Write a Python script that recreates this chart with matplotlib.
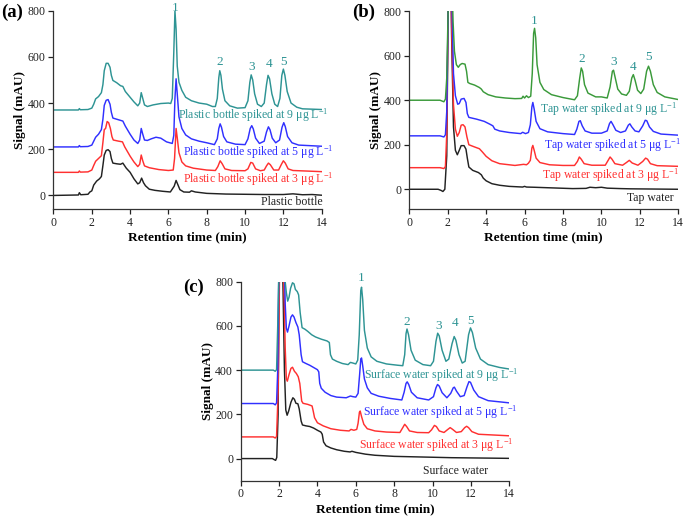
import matplotlib
matplotlib.use('Agg')
import matplotlib.pyplot as plt
import numpy as np

plt.rcParams['font.family'] = 'Liberation Serif'
plt.rcParams['mathtext.fontset'] = 'custom'
plt.rcParams['mathtext.rm'] = 'Liberation Serif'
plt.rcParams['mathtext.it'] = 'Liberation Serif:italic'
plt.rcParams['mathtext.bf'] = 'Liberation Serif:bold'

# ---------------------------------------------------------------
# Chromatogram traces: (time min, signal mAU)
# ---------------------------------------------------------------
# (a) plastic bottle
a_blank = [(0,0),(1.3,2),(1.35,12),(1.42,3),(1.8,5),(1.9,15),(2.0,20),(2.1,45),(2.25,62),(2.4,72),(2.5,82),(2.58,130),(2.65,175),(2.75,195),(2.85,198),(2.95,190),(3.02,160),(3.1,140),(3.3,137),(3.5,135),(3.62,140),(3.8,118),(4.0,100),(4.2,72),(4.4,50),(4.5,55),(4.6,75),(4.7,55),(4.8,42),(5.0,27),(5.3,22),(5.7,18),(6.1,15),(6.3,40),(6.4,65),(6.5,45),(6.6,25),(6.8,15),(7.1,14),(7.2,20),(7.4,15),(8.0,9),(9.0,6),(10.0,5),(11.0,4),(12.0,4),(12.5,7),(13.0,3),(13.5,4),(14.0,1)]
a_3ug = [(0,100),(1.3,100),(1.35,106),(1.4,101),(1.8,102),(2.0,110),(2.1,130),(2.2,148),(2.35,160),(2.5,172),(2.58,230),(2.65,285),(2.72,290),(2.8,320),(2.88,315),(2.97,290),(3.05,255),(3.12,240),(3.4,235),(3.6,232),(3.72,210),(4.0,170),(4.2,145),(4.4,125),(4.5,135),(4.58,175),(4.66,150),(4.75,128),(5.0,120),(5.5,112),(6.0,108),(6.25,110),(6.32,160),(6.4,290),(6.46,250),(6.55,185),(6.7,145),(6.9,128),(7.3,118),(8.0,110),(8.45,108),(8.58,125),(8.7,150),(8.8,138),(8.95,115),(9.3,108),(10.0,107),(10.15,115),(10.3,143),(10.4,140),(10.55,115),(10.8,107),(11.0,110),(11.12,128),(11.22,140),(11.32,133),(11.5,110),(11.75,110),(11.9,135),(12.0,150),(12.1,140),(12.25,115),(12.5,108),(14.0,103)]
a_5ug = [(0,210),(1.3,210),(1.35,216),(1.4,211),(1.8,212),(2.0,218),(2.1,235),(2.2,252),(2.35,265),(2.5,285),(2.58,330),(2.65,390),(2.75,412),(2.85,415),(2.95,395),(3.02,360),(3.1,335),(3.3,330),(3.5,325),(3.62,322),(3.75,300),(4.0,265),(4.2,240),(4.4,225),(4.5,240),(4.58,290),(4.66,265),(4.75,240),(4.9,238),(5.1,245),(5.35,252),(5.6,248),(5.9,232),(6.2,225),(6.28,260),(6.34,420),(6.4,505),(6.46,440),(6.55,340),(6.7,290),(6.9,262),(7.2,245),(7.6,235),(8.0,228),(8.4,220),(8.55,245),(8.63,290),(8.7,310),(8.77,295),(8.88,255),(9.05,232),(9.5,222),(10.0,220),(10.15,245),(10.27,290),(10.35,302),(10.43,288),(10.55,248),(10.75,225),(11.0,235),(11.12,275),(11.22,297),(11.3,285),(11.42,248),(11.6,228),(11.8,240),(11.93,295),(12.02,315),(12.1,298),(12.22,255),(12.45,228),(12.8,218),(14.0,213)]
a_9ug = [(0,370),(1.3,370),(1.35,376),(1.4,371),(1.8,372),(2.0,378),(2.1,395),(2.2,418),(2.35,428),(2.5,445),(2.58,480),(2.65,540),(2.75,572),(2.85,572),(2.95,555),(3.02,520),(3.1,498),(3.3,488),(3.5,475),(3.62,472),(3.75,450),(4.0,425),(4.2,405),(4.4,388),(4.5,400),(4.58,445),(4.66,420),(4.75,392),(4.9,385),(5.2,392),(5.6,398),(6.0,400),(6.12,398),(6.2,420),(6.28,620),(6.34,800),(6.4,720),(6.46,560),(6.55,490),(6.7,455),(6.9,425),(7.2,410),(7.6,400),(8.0,395),(8.3,385),(8.45,385),(8.55,420),(8.63,510),(8.68,540),(8.74,520),(8.82,460),(8.95,410),(9.2,388),(9.6,378),(10.0,380),(10.15,410),(10.25,490),(10.32,522),(10.4,500),(10.5,440),(10.65,395),(10.85,385),(11.0,400),(11.12,480),(11.2,520),(11.28,505),(11.4,440),(11.55,395),(11.7,385),(11.82,420),(11.92,520),(12.0,547),(12.08,520),(12.2,450),(12.4,400),(12.7,382),(13.0,375),(14.0,372)]

# (b) tap water
b_blank = [(0,0),(1.5,0),(1.65,-5),(1.75,-10),(1.85,0),(1.95,150),(2.02,800),(2.1,1400),(2.2,700),(2.3,280),(2.4,175),(2.5,155),(2.6,175),(2.7,196),(2.85,196),(2.95,180),(3.02,140),(3.1,100),(3.3,85),(3.6,75),(3.75,65),(3.85,50),(4.0,38),(4.3,25),(4.7,18),(5.2,13),(5.9,10),(6.0,13),(6.1,10),(6.5,9),(7.5,6),(8.5,3),(9.2,4),(9.4,9),(9.7,7),(10.0,9),(10.3,5),(11.0,3),(11.5,2),(14.0,0)]
b_3ug = [(0,97),(1.6,97),(1.8,93),(1.88,102),(1.95,250),(2.02,800),(2.1,1400),(2.2,750),(2.3,380),(2.4,270),(2.5,238),(2.6,255),(2.7,288),(2.8,290),(2.9,280),(3.0,235),(3.1,200),(3.4,190),(3.65,182),(3.8,168),(4.0,148),(4.3,128),(4.7,115),(5.5,107),(5.95,112),(6.1,110),(6.2,117),(6.3,130),(6.38,185),(6.43,197),(6.5,175),(6.6,140),(6.8,120),(7.3,110),(8.0,107),(8.6,107),(8.75,125),(8.85,145),(8.95,135),(9.1,115),(9.5,108),(10.2,108),(10.35,130),(10.45,145),(10.55,135),(10.7,115),(11.1,108),(11.3,120),(11.45,130),(11.6,118),(11.9,108),(12.15,125),(12.3,140),(12.4,135),(12.55,115),(12.9,106),(14.0,103)]
b_5ug = [(0,240),(1.6,240),(1.8,235),(1.88,245),(1.95,350),(2.02,800),(2.1,1400),(2.2,900),(2.3,520),(2.4,420),(2.52,382),(2.6,385),(2.7,405),(2.85,408),(2.95,390),(3.02,340),(3.1,323),(3.5,315),(3.9,305),(4.2,292),(4.35,285),(4.45,270),(4.7,262),(5.2,255),(5.8,250),(5.9,256),(6.05,250),(6.2,255),(6.3,290),(6.38,370),(6.43,390),(6.5,360),(6.6,305),(6.8,272),(7.2,258),(8.0,250),(8.6,246),(8.72,270),(8.83,305),(8.9,308),(9.0,285),(9.15,262),(9.5,252),(10.0,252),(10.3,262),(10.42,295),(10.5,305),(10.6,290),(10.75,265),(11.0,255),(11.25,262),(11.4,288),(11.48,294),(11.58,280),(11.75,262),(11.95,258),(12.15,285),(12.28,310),(12.36,308),(12.5,280),(12.7,260),(13.1,248),(14.0,243)]
b_9ug = [(0,400),(1.6,400),(1.8,393),(1.88,405),(1.95,500),(2.02,800),(2.1,1400),(2.2,1000),(2.28,750),(2.35,620),(2.45,560),(2.55,548),(2.65,560),(2.75,565),(2.9,562),(2.98,530),(3.05,480),(3.15,475),(3.4,468),(3.65,457),(3.75,450),(3.85,438),(4.1,425),(4.5,415),(5.0,410),(5.5,407),(5.85,408),(5.92,418),(6.0,410),(6.1,420),(6.2,412),(6.32,418),(6.4,520),(6.47,700),(6.52,723),(6.58,680),(6.65,560),(6.8,480),(7.0,448),(7.4,425),(8.0,412),(8.6,402),(8.75,420),(8.87,500),(8.95,545),(9.02,530),(9.12,470),(9.3,432),(9.7,415),(10.0,415),(10.3,410),(10.45,460),(10.57,530),(10.63,535),(10.72,500),(10.85,450),(11.05,428),(11.3,422),(11.45,440),(11.58,500),(11.66,515),(11.75,490),(11.88,445),(12.05,430),(12.2,450),(12.35,530),(12.45,553),(12.55,530),(12.7,470),(12.9,435),(13.3,415),(14.0,403)]

# (c) surface water
c_blank = [(0,0),(1.65,0),(1.75,-5),(1.82,-8),(1.88,5),(1.95,200),(2.0,800),(2.1,1300),(2.2,800),(2.28,400),(2.35,220),(2.42,196),(2.5,215),(2.62,255),(2.72,275),(2.8,268),(2.88,250),(2.98,248),(3.05,225),(3.15,170),(3.22,152),(3.4,148),(3.6,145),(3.8,138),(4.0,128),(4.18,120),(4.25,110),(4.32,75),(4.45,58),(4.7,48),(5.0,40),(5.4,33),(5.7,30),(5.8,33),(6.0,28),(6.5,20),(7.0,15),(8.0,10),(9.0,8),(10.0,6),(11.0,4),(12.0,3),(13.0,2),(14.0,1)]
c_3ug = [(0,98),(1.7,98),(1.8,93),(1.87,100),(1.95,300),(2.02,800),(2.15,1200),(2.25,800),(2.32,500),(2.38,360),(2.43,350),(2.52,380),(2.62,408),(2.7,413),(2.8,395),(2.9,385),(3.0,370),(3.08,340),(3.18,260),(3.25,250),(3.5,245),(3.72,238),(3.78,215),(3.85,185),(4.0,162),(4.3,148),(4.7,135),(5.2,128),(5.65,125),(5.75,132),(5.9,128),(6.05,132),(6.12,160),(6.19,210),(6.23,215),(6.3,190),(6.42,155),(6.6,135),(7.0,125),(7.6,120),(8.3,118),(8.45,140),(8.55,155),(8.65,145),(8.8,125),(9.2,118),(9.8,117),(9.95,130),(10.1,150),(10.2,145),(10.35,125),(10.6,118),(10.8,132),(10.92,140),(11.05,132),(11.25,118),(11.5,122),(11.68,140),(11.78,146),(11.88,140),(12.05,122),(12.4,110),(14.0,103)]
c_5ug = [(0,249),(1.7,249),(1.8,243),(1.87,252),(1.93,400),(1.98,800),(2.1,1300),(2.25,1000),(2.32,700),(2.38,590),(2.44,572),(2.52,600),(2.62,640),(2.7,650),(2.78,640),(2.88,615),(2.98,595),(3.05,560),(3.15,470),(3.22,438),(3.4,430),(3.6,422),(3.8,412),(4.0,402),(4.07,392),(4.12,340),(4.2,318),(4.4,300),(4.7,285),(5.0,278),(5.5,275),(5.72,283),(5.85,280),(6.0,278),(6.12,295),(6.2,380),(6.26,450),(6.3,455),(6.36,420),(6.45,360),(6.6,320),(6.8,295),(7.2,282),(7.8,272),(8.4,265),(8.52,300),(8.62,340),(8.68,347),(8.76,335),(8.9,300),(9.2,275),(9.8,265),(10.05,280),(10.18,320),(10.26,335),(10.35,328),(10.5,298),(10.75,275),(10.95,295),(11.08,320),(11.14,323),(11.25,305),(11.45,280),(11.65,285),(11.8,325),(11.9,348),(11.98,345),(12.15,310),(12.4,280),(12.9,262),(14.0,252)]
c_9ug = [(0,400),(1.7,400),(1.8,395),(1.87,402),(1.93,600),(1.98,800),(2.1,1300),(2.25,1000),(2.32,800),(2.38,750),(2.45,712),(2.52,730),(2.6,770),(2.7,795),(2.78,790),(2.85,765),(2.95,755),(3.02,740),(3.1,660),(3.2,592),(3.35,585),(3.5,575),(3.7,560),(3.9,550),(4.2,540),(4.5,532),(4.62,525),(4.68,470),(4.78,450),(5.0,440),(5.3,430),(5.6,425),(5.72,435),(5.85,432),(6.0,428),(6.1,445),(6.18,560),(6.26,760),(6.3,775),(6.36,720),(6.45,580),(6.6,500),(6.8,460),(7.1,440),(7.6,428),(8.2,422),(8.45,420),(8.55,470),(8.62,565),(8.67,586),(8.75,560),(8.88,490),(9.1,445),(9.5,425),(9.9,420),(10.05,440),(10.18,530),(10.27,567),(10.35,555),(10.5,490),(10.7,440),(10.85,450),(11.02,520),(11.13,552),(11.22,535),(11.38,470),(11.55,432),(11.7,440),(11.88,560),(11.98,591),(12.08,570),(12.25,500),(12.5,450),(12.9,425),(13.5,412),(14.0,405)]

# peak numbers: (time, height of label)
a_peak_labels = [(6.36,812),(8.7,579),(10.33,557),(11.24,568),(12.03,579)]
b_peak_labels = [(6.51,755),(8.97,584),(10.62,572),(11.66,550),(12.44,595)]
c_peak_labels = [(6.3,815),(8.65,619),(10.3,600),(11.15,611),(12.0,622)]

a_names = ['Plastic bottle', 'Plastic bottle spiked at 3', 'Plastic bottle spiked at 5', 'Plastic bottle spiked at 9']
b_names = ['Tap water', 'Tap water spiked at 3', 'Tap water spiked at 5', 'Tap water spiked at 9']
c_names = ['Surface water', 'Surface water spiked at 3', 'Surface water spiked at 5', 'Surface water spiked at 9']

TEAL = '#2e9494'
GREEN = '#3a9a3a'
BLUE = '#3030ff'
RED = '#ff3030'
BLACK = '#222222'


def draw_panel(ax, traces, colors, names, name_pos, peak_labels, ymin, letter, letter_xy):
   for tr, col in zip(traces, colors):
      arr = np.array(tr, dtype=float)
      ax.plot(arr[:, 0], arr[:, 1], color=col, linewidth=1.05)

   for i, (txt, (x, y)) in enumerate(zip(names, name_pos)):
      if i == 0:
         ax.text(x, y, txt, ha='right', va='center', fontsize=8.5, color=BLACK)
      else:
         txt_col = TEAL if i == 3 else colors[i]
         ax.text(x, y, txt + r' μg L$^{\mathregular{-1}}$', ha='left', va='center',
                 fontsize=8.5, color=txt_col)

   for num, (x, y) in enumerate(peak_labels, start=1):
      ax.text(x, y, str(num), ha='center', va='center', fontsize=9.5, color=TEAL)

   ax.set_xlim(0, 14)
   ax.set_ylim(ymin, 800)
   ax.set_xticks(np.arange(0, 15, 2))
   ax.set_yticks(np.arange(0, 801, 200))
   ax.spines['top'].set_visible(False)
   ax.spines['right'].set_visible(False)
   for s in ['left', 'bottom']:
      ax.spines[s].set_linewidth(0.9)
      ax.spines[s].set_color('#333333')
   ax.tick_params(direction='out', length=3.5, width=0.9, labelsize=8.5, pad=2, colors='#222222')
   ax.set_xlabel('Retention time (min)', fontsize=9.5, fontweight='bold', labelpad=2)
   ax.set_ylabel('Signal (mAU)', fontsize=9.5, fontweight='bold', labelpad=1)
   fig.text(letter_xy[0], letter_xy[1], letter, fontsize=13.5, fontweight='bold',
            ha='left', va='center')


fig = plt.figure(figsize=(6.85, 5.2), dpi=100)
ax_a = fig.add_axes([0.0781, 0.5975, 0.3915, 0.382])
ax_b = fig.add_axes([0.5975, 0.5975, 0.3927, 0.381])
ax_c = fig.add_axes([0.3514, 0.0756, 0.392, 0.3827])

draw_panel(ax_a, [a_blank, a_3ug, a_5ug, a_9ug], [BLACK, RED, BLUE, TEAL], a_names,
           [(14.05, -30), (6.75, 72), (6.75, 186), (6.52, 349)],
           a_peak_labels, -60, '(a)', (0.0015, 0.977))
draw_panel(ax_b, [b_blank, b_3ug, b_5ug, b_9ug], [BLACK, RED, BLUE, GREEN], b_names,
           [(13.74, -40), (6.89, 61), (7.0, 197), (6.8, 360)],
           b_peak_labels, -90, '(b)', (0.514, 0.977))
draw_panel(ax_c, [c_blank, c_3ug, c_5ug, c_9ug], [BLACK, RED, BLUE, TEAL], c_names,
           [(12.9, -57), (6.17, 60), (6.39, 211), (6.43, 377)],
           c_peak_labels, -100, '(c)', (0.267, 0.448))

fig.savefig('out.png', dpi=100)
